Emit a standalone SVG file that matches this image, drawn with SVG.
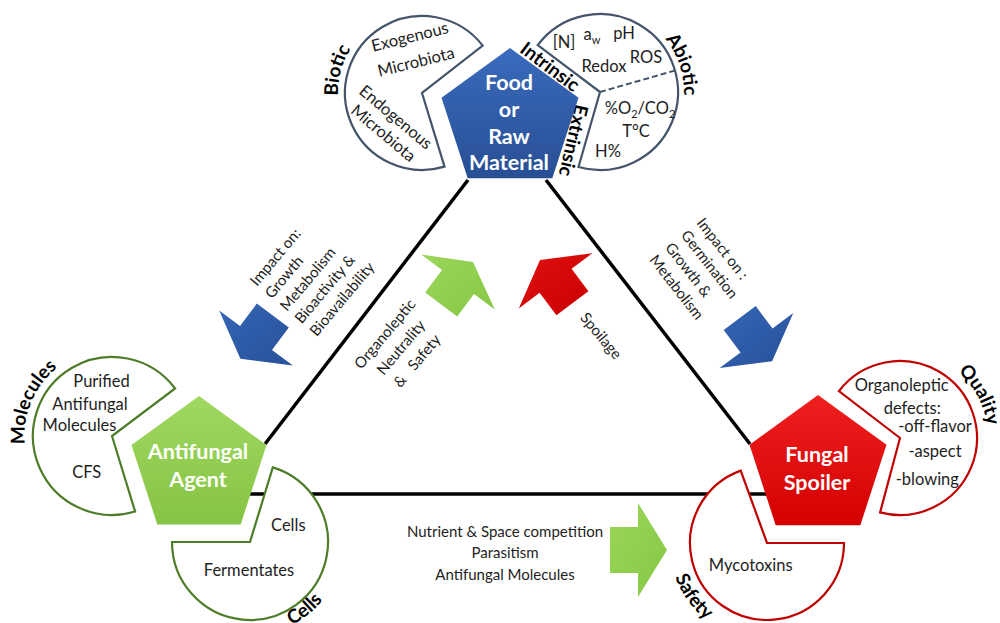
<svg xmlns="http://www.w3.org/2000/svg" width="1000" height="623" viewBox="0 0 1000 623">
<defs>
<style>
.t{font-family:Lato,"Open Sans","Liberation Sans",sans-serif;font-size:16.5px;fill:#1e1e1e;text-anchor:middle}
.m{font-family:Lato,"Open Sans","Liberation Sans",sans-serif;font-size:15px;fill:#1e1e1e}
.lb{font-family:Lato,"Open Sans","Liberation Sans",sans-serif;font-weight:bold;font-size:19px;fill:#000}
.pt{font-family:Lato,"Open Sans","Liberation Sans",sans-serif;font-weight:bold;font-size:21.5px;fill:#fff;text-anchor:middle}
.cb{fill:#fff;stroke:#44546a;stroke-width:2.2}
.cg{fill:#fff;stroke:#4e7d2a;stroke-width:2.2}
.cr{fill:#fff;stroke:#c00000;stroke-width:2.2}
.edge{stroke:#000;stroke-width:3.5;fill:none}
.ab{fill:url(#gBlueA)}
.ag{fill:url(#gGreenA)}
.ar{fill:url(#gRedA)}
</style>
<linearGradient id="gBlue" x1="0" y1="0" x2="0" y2="1"><stop offset="0" stop-color="#3a6bbd"/><stop offset="1" stop-color="#284f94"/></linearGradient>
<linearGradient id="gGreen" x1="0" y1="0" x2="0" y2="1"><stop offset="0" stop-color="#a0d862"/><stop offset="1" stop-color="#86c443"/></linearGradient>
<linearGradient id="gRed" x1="0" y1="0" x2="0" y2="1"><stop offset="0" stop-color="#f02020"/><stop offset="1" stop-color="#d40000"/></linearGradient>
<linearGradient id="gBlueA" x1="0" y1="0" x2="1" y2="1"><stop offset="0" stop-color="#3565b5"/><stop offset="1" stop-color="#27519a"/></linearGradient>
<linearGradient id="gGreenA" x1="0" y1="0" x2="1" y2="1"><stop offset="0" stop-color="#9bd65a"/><stop offset="1" stop-color="#86c844"/></linearGradient>
<linearGradient id="gRedA" x1="0" y1="0" x2="1" y2="1"><stop offset="0" stop-color="#e01010"/><stop offset="1" stop-color="#c80000"/></linearGradient>
<path id="pBiotic" d="M343.1,121.7 A84,84 0 0 1 368,28.7"/>
<path id="pAbiotic" d="M648.2,23.2 A84,84 0 0 1 679.9,118"/>
<path id="pMolecules" d="M28.3,461.6 A87.5,87.5 0 0 1 72.3,358"/>
<path id="pCells" d="M250,635 A93,93 0 0 0 341,561.3"/>
<path id="pQuality" d="M933,356.4 A88,88 0 0 1 986.4,454.8"/>
<path id="pSafety" d="M669.4,534.5 A98,98 0 0 0 745,638.5"/>
</defs>
<rect width="1000" height="623" fill="#fff"/>

<g id="connectors">
<line class="edge" x1="468" y1="180" x2="265" y2="444"/>
<line class="edge" x1="546" y1="180" x2="750" y2="444"/>
<line class="edge" x1="250" y1="494" x2="775" y2="494"/>
</g>

<g id="biotic">
<path class="cb" d="M422,93 L444.5,166.6 A77,77 0 1 1 482.7,45.6 Z"/>
<text class="t" transform="translate(411.3,42.3) rotate(-14)">Exogenous</text>
<text class="t" transform="translate(417.3,67.3) rotate(-14)">Microbiota</text>
<text class="t" transform="translate(392.2,121.5) rotate(40)">Endogenous</text>
<text class="t" transform="translate(379.8,137.5) rotate(40)">Microbiota</text>
<text class="lb" text-anchor="middle"><textPath href="#pBiotic" startOffset="50%">Biotic</textPath></text>
</g>

<g id="abiotic">
<path class="cb" d="M600,92 L537.7,45.1 A78,78 0 1 1 578.5,167 Z"/>
<line x1="600" y1="92" x2="675" y2="70.5" stroke="#44546a" stroke-width="2" stroke-dasharray="6,3"/>
<text class="t" x="564" y="47.5">[N]</text>
<text class="t" x="592" y="40">a<tspan font-size="11" dy="4">w</tspan></text>
<text class="t" x="624" y="38.5">pH</text>
<text class="t" x="604" y="71.5">Redox</text>
<text class="t" x="646" y="63">ROS</text>
<text class="t" x="640" y="113.5">%O<tspan font-size="11" dy="4">2</tspan><tspan dy="-4">/CO</tspan><tspan font-size="11" dy="4">2</tspan></text>
<text class="t" x="636" y="136.5">T°C</text>
<text class="t" x="608" y="156.5">H%</text>
<text class="lb" text-anchor="middle"><textPath href="#pAbiotic" startOffset="50%">Abiotic</textPath></text>
<text class="lb" text-anchor="middle" font-size="17" transform="translate(546,72) rotate(37)">Intrinsic</text>
<text class="lb" text-anchor="middle" font-size="17" transform="translate(567,139) rotate(103)">Extrinsic</text>
</g>

<g id="molecules">
<path class="cg" d="M112,436 L135.1,511.5 A79,79 0 1 1 175.1,388.5 Z"/>
<text class="t" x="101.5" y="387.2">Purified</text>
<text class="t" x="90" y="409.5">Antifungal</text>
<text class="t" x="79.5" y="430.5">Molecules</text>
<text class="t" x="86.7" y="477.8">CFS</text>
<text class="lb" text-anchor="middle"><textPath href="#pMolecules" startOffset="50%">Molecules</textPath></text>
</g>

<g id="cells">
<path class="cg" d="M250,542 L272.8,467.4 A78,78 0 1 1 172,542 Z"/>
<text class="t" x="288.3" y="530.5">Cells</text>
<text class="t" x="249" y="576.2">Fermentates</text>
<text class="lb" text-anchor="middle"><textPath href="#pCells" startOffset="50%">Cells</textPath></text>
</g>

<g id="quality">
<path class="cr" d="M900,438 L838.9,391.1 A77,77 0 1 1 880.1,512.4 Z"/>
<text class="t" x="901.7" y="391.2">Organoleptic</text>
<text class="t" x="912.3" y="413.8">defects:</text>
<text class="t" x="935" y="432.2">-off-flavor</text>
<text class="t" x="935" y="457.2">-aspect</text>
<text class="t" x="927.3" y="484.5">-blowing</text>
<text class="lb" text-anchor="middle"><textPath href="#pQuality" startOffset="50%">Quality</textPath></text>
</g>

<g id="safety">
<path class="cr" d="M767,543 L844,543 A77,77 0 1 1 740.7,470.6 Z"/>
<text class="t" x="750.7" y="570.5">Mycotoxins</text>
<text class="lb" text-anchor="middle"><textPath href="#pSafety" startOffset="50%">Safety</textPath></text>
</g>

<g id="food">
<polygon points="510,48 578.5,97.8 552.3,178.2 467.7,178.2 441.5,97.8" fill="url(#gBlue)"/>
<text class="pt" x="509" y="90">Food</text>
<text class="pt" x="509" y="117">or</text>
<text class="pt" x="509" y="143.5">Raw</text>
<text class="pt" x="509" y="170">Material</text>
</g>

<g id="antifungal">
<polygon points="199,396 266.5,445 240.7,524.4 157.3,524.4 131.5,445" fill="url(#gGreen)"/>
<text class="pt" x="198" y="459">Antifungal</text>
<text class="pt" x="198" y="487">Agent</text>
</g>

<g id="fungal">
<polygon points="818,395 886.5,444.8 860.3,525.2 775.7,525.2 749.5,444.8" fill="url(#gRed)"/>
<text class="pt" x="817" y="462">Fungal</text>
<text class="pt" x="817" y="490">Spoiler</text>
</g>

<g id="arrows">
<polygon class="ab" points="240.4,358.8 292.8,365.6 272,350 288.8,327.6 256.8,303.6 240,326 219.2,310.4"/>
<polygon class="ab" points="772.1,361.3 719.7,368.1 740.5,352.5 723.7,330.1 755.7,306.1 772.5,328.5 793.3,312.9"/>
<polygon class="ag" points="473,262 494.8,309.6 474,294 457.2,316.4 425.2,292.4 442,270 421.2,254.4"/>
<polygon class="ar" points="540,260 592.4,253.2 571.6,268.8 588.4,291.2 556.4,315.2 539.6,292.8 518.8,308.4"/>
<polygon class="ag" points="667,550 638,597 638,573 610,573 610,527 638,527 638,503"/>
</g>

<g id="labels">
<g class="m" transform="translate(257,287) rotate(-50)">
<text x="0" y="0">Impact on:</text>
<text x="0" y="19.5">Growth</text>
<text x="0" y="39">Metabolism</text>
<text x="0" y="58.5">Bioactivity &amp;</text>
<text x="0" y="78">Bioavailability</text>
</g>
<g class="m" text-anchor="middle" transform="translate(388.8,337.2) rotate(-50)">
<text x="0" y="0">Organoleptic</text>
<text x="0" y="21">Neutrality</text>
<text x="0" y="42" xml:space="preserve">&amp;   Safety</text>
</g>
<g class="m" transform="translate(696,223) rotate(52)">
<text x="0" y="0">Impact on :</text>
<text x="0" y="20">Germination</text>
<text x="0" y="40">Growth &amp;</text>
<text x="0" y="60">Metabolism</text>
</g>
<text class="m" text-anchor="middle" transform="translate(597.2,339.2) rotate(50)">Spoilage</text>
<text class="m" text-anchor="middle" x="505" y="537">Nutrient &amp; Space competition</text>
<text class="m" text-anchor="middle" x="505" y="558">Parasitism</text>
<text class="m" text-anchor="middle" x="505" y="580">Antifungal Molecules</text>
</g>
</svg>
